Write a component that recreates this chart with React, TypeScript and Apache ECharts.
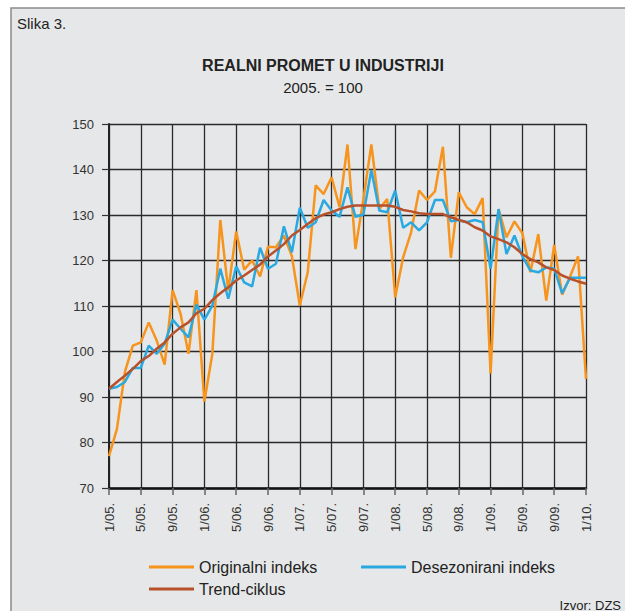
import React, { useEffect, useRef } from "react";
import * as echarts from "echarts";

const FONT = "'Liberation Sans', Arial, sans-serif";

const categories: string[] = [];
for (let i = 0; i <= 60; i++) {
  const m = (i % 12) + 1;
  const y = 5 + Math.floor(i / 12);
  categories.push(`${m}/${String(y).padStart(2, "0")}.`);
}

const originalni = [
  77, 83, 95.5, 101.3, 102, 106.4, 102.4, 97.1, 113.5, 108.3,
  99.5, 113.5, 89, 99.5, 128.9, 113.4, 126.4, 118, 120, 116.5,
  123, 122.9, 125.5, 121, 110.1, 117.4, 136.5, 134.6, 138.3, 131.7,
  145.5, 122.5, 133.5, 145.5, 131.3, 133.5, 111.9, 120.7, 126.2, 135.4,
  133.3, 135.2, 145, 120.6, 135, 131.7, 130.2, 133.7, 95.2, 131.3,
  125.1, 128.6, 126, 117.4, 125.8, 111.2, 123.4, 112.5, 116.5, 120.9,
  94,
];

const desezonirani = [
  91.8, 92.2, 93.3, 96.4, 96.4, 101.3, 99.5, 101.7, 107, 105,
  103.1, 110.3, 107, 110.1, 118.2, 111.6, 118.7, 115.2, 114.3, 122.8,
  118.2, 119.3, 127.5, 121.8, 131.6, 127.2, 128.4, 133.3, 131, 129.6,
  136.1, 129.6, 130.1, 139.9, 131, 130.6, 135.4, 127.2, 128.4, 126.6,
  128.4, 133.3, 133.3, 128.6, 128.9, 128.4, 128.9, 128.4, 118.2, 131.3,
  121.4, 125.5, 120.9, 117.8, 117.4, 118.5, 118.2, 112.8, 116.2, 116.2,
  116.2,
];

const trend = [
  91.8, 93.3, 94.7, 96.2, 97.9, 99, 100.6, 102, 103.9, 105.3,
  106.4, 108.4, 109.4, 111.3, 112.8, 114.1, 115.6, 116.7, 117.9, 119.1,
  120.9, 122.2, 123.6, 125.5, 126.7, 128, 129.3, 130.1, 130.6, 131.3,
  131.8, 132.1, 132.1, 132.1, 132.1, 132.1, 131.8, 131.1, 130.8, 130.4,
  130.2, 130.2, 130.2, 129.5, 128.9, 128.4, 127.3, 126.6, 125.3, 124.7,
  124, 122.9, 121.4, 120.3, 119.6, 118.5, 117.9, 116.7, 116, 115.4,
  114.9,
];

const seriesNames = ["Originalni indeks", "Desezonirani indeks", "Trend-ciklus"];
const seriesColors = ["#f7941d", "#29a9e0", "#b7512b"];

export default function App() {
  const ref = useRef<HTMLDivElement>(null);
  useEffect(() => {
    if (!ref.current) return;
    const chart = echarts.init(ref.current, undefined, { renderer: "svg" });
    const legendCommon = {
      itemWidth: 45,
      itemHeight: 3,
      icon: "rect",
      textStyle: { fontFamily: FONT, fontSize: 16, color: "#222" },
      selectedMode: false,
    };
    chart.setOption({
      animation: false,
      backgroundColor: "#ffffff",
      textStyle: { fontFamily: FONT },
      graphic: [
        {
          type: "rect",
          shape: { x: 11, y: 8, width: 640, height: 640 },
          style: { fill: "#e6e7e8", stroke: "#8a8a8a", lineWidth: 1.5 },
          z: -10,
          silent: true,
        },
        {
          type: "text",
          x: 17,
          y: 23.5,
          style: { text: "Slika 3.", font: `15px ${FONT}`, fill: "#222", textVerticalAlign: "middle" },
        },
        {
          type: "text",
          x: 323,
          y: 65,
          style: { text: "REALNI PROMET U INDUSTRIJI", font: `bold 16px ${FONT}`, fill: "#222", textAlign: "center", textVerticalAlign: "middle" },
        },
        {
          type: "text",
          x: 323,
          y: 87,
          style: { text: "2005. = 100", font: `15px ${FONT}`, fill: "#222", textAlign: "center", textVerticalAlign: "middle" },
        },
        {
          type: "text",
          x: 621,
          y: 605,
          style: { text: "Izvor: DZS", font: `13px ${FONT}`, fill: "#222", textAlign: "right", textVerticalAlign: "middle" },
        },
      ],
      legend: [
        { ...legendCommon, left: 144, top: 554, data: [seriesNames[0]] },
        { ...legendCommon, left: 356, top: 554, data: [seriesNames[1]] },
        { ...legendCommon, left: 144, top: 576, data: [seriesNames[2]] },
      ],
      grid: { left: 109, right: 39, top: 124, bottom: 123, containLabel: false },
      xAxis: {
        type: "category",
        data: categories,
        boundaryGap: false,
        axisLine: { show: true, lineStyle: { color: "#111", width: 2.5 } },
        axisTick: { show: true, interval: 3, length: 7, lineStyle: { color: "#666", width: 1.5 } },
        axisLabel: {
          interval: 3,
          rotate: 90,
          margin: 15,
          fontSize: 13,
          fontFamily: FONT,
          color: "#333",
        },
        splitLine: { show: true, interval: 3, lineStyle: { color: "#2a2a2a", width: 1.3 } },
      },
      yAxis: {
        type: "value",
        min: 70,
        max: 150,
        interval: 10,
        axisLine: { show: true, lineStyle: { color: "#222", width: 2 } },
        axisTick: { show: true, length: 7, lineStyle: { color: "#333", width: 1.2 } },
        axisLabel: { margin: 15, fontSize: 13, fontFamily: FONT, color: "#333" },
        splitLine: { show: true, lineStyle: { color: "#2a2a2a", width: 1.3 } },
      },
      series: [
        { name: seriesNames[0], type: "line", data: originalni },
        { name: seriesNames[1], type: "line", data: desezonirani },
        { name: seriesNames[2], type: "line", data: trend },
      ].map((s, i) => ({
        ...s,
        symbol: "none",
        color: seriesColors[i],
        lineStyle: { color: seriesColors[i], width: 2.5 },
        z: 2 + i,
      })),
    });
    return () => chart.dispose();
  }, []);
  return (
    <div
      ref={ref}
      style={{ position: "fixed", left: 0, top: 0, width: 625, height: 611 }}
    />
  );
}
